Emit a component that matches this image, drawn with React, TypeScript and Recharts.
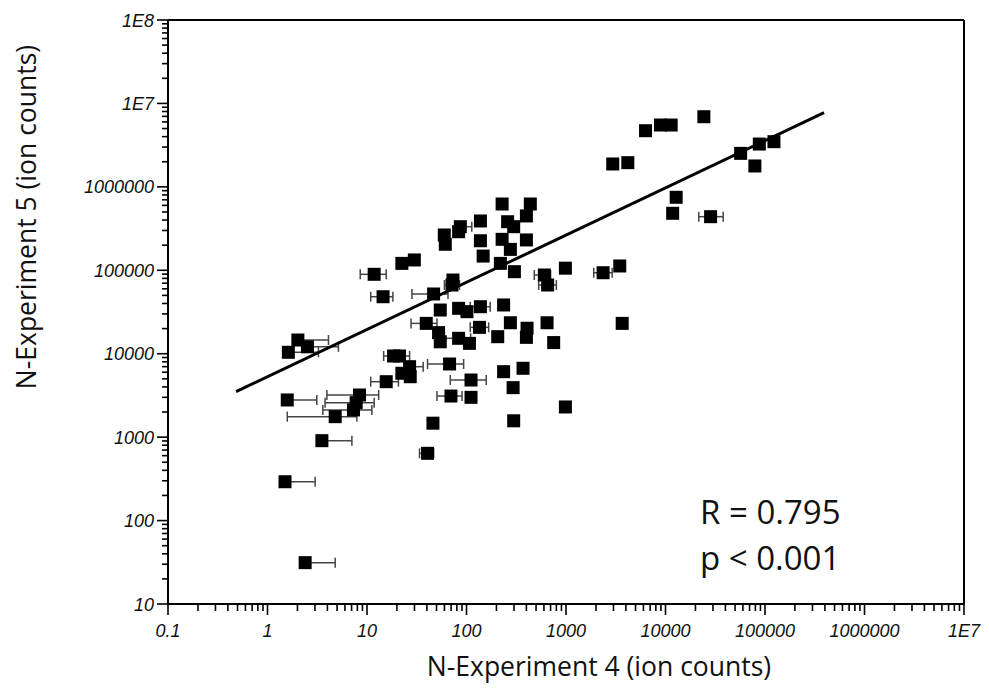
import { ScatterChart, Scatter, XAxis, YAxis, ErrorBar, ReferenceLine } from "recharts"

// ion counts per feature: N-Experiment 4 (x) vs N-Experiment 5 (y)
const exp4 = [
  24300, 6300, 8900, 11400, 2950, 4180, 56900, 87700, 123000, 79100,
  12800, 11800, 28400, 986, 2360, 3470, 3670, 986, 228, 438,
  400, 138, 86.7, 83.3, 59.8, 61.2, 259, 298, 138, 228,
  400, 276, 147, 219, 303, 606, 654, 73.1, 71.5, 46.7,
  54.5, 83.3, 101, 138, 236, 39.4, 276, 406, 645, 135,
  52.4, 54.5, 83.3, 107, 206, 400, 752, 67.6, 111, 69.8,
  111, 236, 370, 294, 46.0, 298, 40.6, 22.4, 29.9, 11.8,
  14.5, 2.02, 1.62, 2.52, 18.5, 21.2, 26.8, 22.4, 27.2, 15.6,
  8.41, 7.78, 7.31, 4.79, 1.58, 3.52, 1.50, 2.39,
]
const exp5 = [
  6.93e6, 4.71e6, 5.51e6, 5.51e6, 1.88e6, 1.95e6, 2.52e6, 3.26e6, 3.48e6, 1.78e6,
  750000, 482000, 439000, 106000, 93500, 112600, 23100, 2300, 623000, 623000,
  448000, 390000, 333000, 290000, 265000, 205000, 382000, 333000, 226000, 235000,
  231000, 178000, 148000, 121000, 96200, 87800, 66600, 76400, 66600, 52000,
  33400, 35000, 31900, 36600, 38400, 23100, 23500, 20200, 23500, 20700,
  17900, 13900, 15300, 13300, 16000, 15700, 13600, 7530, 4840, 3110,
  3000, 6090, 6690, 3920, 1470, 1570, 640, 121000, 133000, 89500,
  48200, 14600, 10400, 12100, 9390, 9390, 6990, 5830, 5300, 4620,
  3200, 2590, 2120, 1760, 2790, 907, 292, 31.3,
]
// horizontal error range (low, high) on N-Experiment 4; null = no bar
const exp4Low = [
  null, null, null, null, null, null, null, null, null, null,
  null, null, 21600, null, 1900, null, null, null, null, null,
  null, null, 80, null, null, null, null, null, null, null,
  null, null, null, null, null, 480, 531, null, 60, 28.3,
  null, null, null, 109, null, 27.7, null, null, null, 109,
  null, null, 60, null, null, null, null, 40.6, 68.7, 50.5,
  null, null, null, null, null, null, 33.7, null, null, 8.55,
  10.9, 1.85, 1.5, 2.3, 14.7, null, 24, null, null, 10.9,
  3.95, 3.79, 3.6, 1.58, 1.45, 3.2, 1.4, 2.2,
]
const exp4High = [
  null, null, null, null, null, null, null, null, null, null,
  null, null, 38000, null, 2910, null, null, null, null, null,
  null, null, 113, null, null, null, null, null, null, null,
  null, null, null, null, null, 700, 800, null, 85, 65.2,
  null, null, null, 173, null, 50.5, null, null, null, 167,
  null, null, 110, null, null, null, null, 93.6, 158, 90.2,
  null, null, null, null, null, null, 46.7, null, null, 15.6,
  18.2, 4.1, 3.25, 5.16, 26.8, null, 36.7, null, null, 20.7,
  13.1, 11.8, 11.2, 7.91, 3.13, 7.05, 3.01, 4.79,
]

// regression line end points
const fitX = [0.483, 392000]
const fitY = [3510, 7.74e6]

const xMajor = [0.1, 1, 10, 100, 1000, 10000, 100000, 1000000, 1e7]
const xLabels = ["0.1", "1", "10", "100", "1000", "10000", "100000", "1000000", "1E7"]
const yMajor = [10, 100, 1000, 10000, 100000, 1000000, 1e7, 1e8]
const yLabels = ["10", "100", "1000", "10000", "100000", "1000000", "1E7", "1E8"]
const minorSteps = [2, 3, 4, 5, 6, 7, 8, 9]

const withMinor = (major: number[]) =>
  major.flatMap((d, i) => (i < major.length - 1 ? [d, ...minorSteps.map(s => d * s)] : [d]))

const majorIndex = (major: number[], v: number) =>
  major.findIndex(m => Math.abs(m - v) / m < 1e-9)

const points = exp4.map((x, i) => {
  const lo = exp4Low[i]
  const hi = exp4High[i]
  return { x, y: exp5[i], errX: lo == null || hi == null ? [0, 0] : [x - lo, hi - x] }
})
const fitLine = fitX.map((x, i) => ({ x, y: fitY[i] }))

const tickFont = { fontFamily: "Liberation Sans, Arial, sans-serif", fontStyle: "italic", fontSize: 18, fill: "#111" }
const titleFont = { fontFamily: "Open Sans, sans-serif", fontSize: 26.5, fill: "#111" }
const statFont = { fontFamily: "Open Sans, sans-serif", fontSize: 33, fill: "#111" }

function XTick({ x, y, payload }: any) {
  const idx = majorIndex(xMajor, payload.value)
  const len = idx >= 0 ? 11 : 7
  return (
    <g>
      <line x1={x} x2={x} y1={y} y2={y + len} stroke="#000" strokeWidth={1.6} />
      {idx >= 0 && <text x={x} y={y + 33} textAnchor="middle" {...tickFont}>{xLabels[idx]}</text>}
    </g>
  )
}

function YTick({ x, y, payload }: any) {
  const idx = majorIndex(yMajor, payload.value)
  const len = idx >= 0 ? 11 : 6
  return (
    <g>
      <line x1={x - len} x2={x} y1={y} y2={y} stroke="#000" strokeWidth={1.6} />
      {idx >= 0 && <text x={x - 14} y={y + 6.5} textAnchor="end" {...tickFont}>{yLabels[idx]}</text>}
    </g>
  )
}

const Square = ({ cx, cy }: any) => <rect x={cx - 6.5} y={cy - 6.5} width={13} height={13} fill="#000" />

export default function App() {
  return (
    <div style={{ position: "absolute", left: 0, top: 0, width: 989, height: 696, background: "#fff" }}>
      <ScatterChart width={989} height={696} margin={{ top: 20, right: 25, left: 0, bottom: 0 }}>
        <XAxis
          dataKey="x" type="number" scale="log" domain={[0.1, 1e7]} allowDataOverflow
          ticks={withMinor(xMajor)} interval={0} tickSize={0} tickMargin={0}
          tick={<XTick />} height={92} axisLine={{ stroke: "#000", strokeWidth: 2 }}
        />
        <YAxis
          dataKey="y" type="number" scale="log" domain={[10, 1e8]} allowDataOverflow
          ticks={withMinor(yMajor)} interval={0} tickSize={0} tickMargin={0}
          tick={<YTick />} width={168} axisLine={{ stroke: "#000", strokeWidth: 2 }}
        />
        <ReferenceLine y={1e8} stroke="#000" strokeWidth={2} />
        <ReferenceLine x={1e7} stroke="#000" strokeWidth={2} />
        <Scatter data={points} shape={<Square />} isAnimationActive={false}>
          <ErrorBar dataKey="errX" direction="x" width={5} stroke="#444" strokeWidth={1.5} isAnimationActive={false} />
        </Scatter>
        <Scatter
          data={fitLine} line={{ stroke: "#000", strokeWidth: 3 }} shape={() => <g />}
          isAnimationActive={false}
        />
        <text x={599} y={676} textAnchor="middle" {...titleFont}>N-Experiment 4 (ion counts)</text>
        <text transform="translate(36,217) rotate(-90)" textAnchor="middle" {...titleFont}>N-Experiment 5 (ion counts)</text>
        <text x={700} y={524} {...statFont}>R = 0.795</text>
        <text x={700} y={570} {...statFont}>p &lt; 0.001</text>
      </ScatterChart>
    </div>
  )
}
